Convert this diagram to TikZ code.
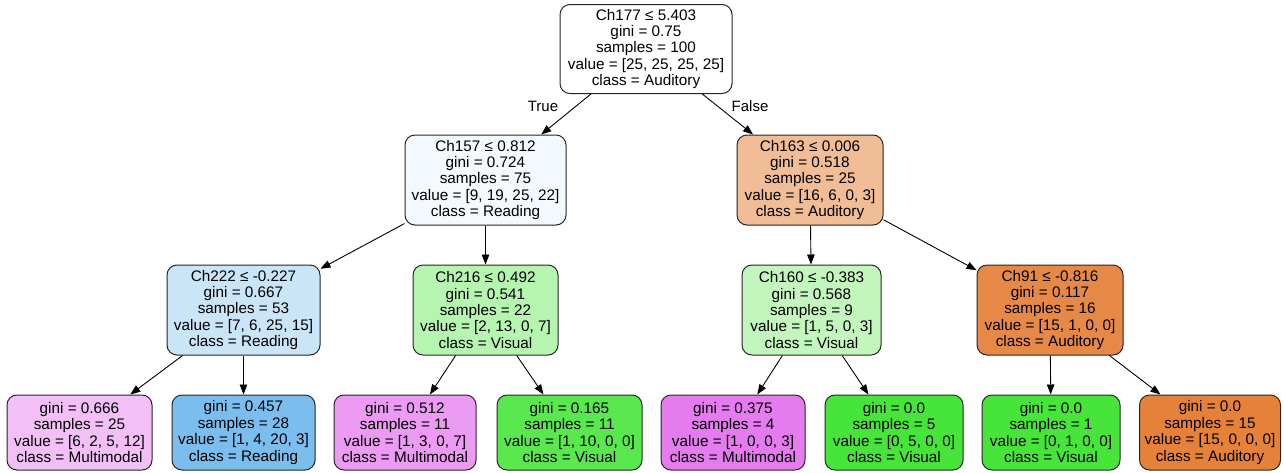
\documentclass[tikz,border=0pt]{standalone}
\usepackage{fontspec}
\setmainfont{Liberation Sans}
\usetikzlibrary{arrows.meta}

% fill colours of the tree nodes
\definecolor{cRoot}{HTML}{FFFFFF}
\definecolor{cA}{HTML}{F4F9FE}
\definecolor{cB}{HTML}{F1BD97}
\definecolor{cC}{HTML}{CBE5F8}
\definecolor{cD}{HTML}{B5F5B0}
\definecolor{cE}{HTML}{C2F6BD}
\definecolor{cF}{HTML}{E78946}
\definecolor{cL1}{HTML}{F2C0F7}
\definecolor{cL2}{HTML}{7BBEEE}
\definecolor{cL3}{HTML}{EB9CF2}
\definecolor{cL4}{HTML}{59E84D}
\definecolor{cL5}{HTML}{E47BEE}
\definecolor{cL6}{HTML}{47E539}
\definecolor{cL8}{HTML}{E58139}

\begin{document}
\begin{tikzpicture}[x=1pt,y=-1pt,
  treenode/.style={draw=black!85, line width=1pt, rounded corners=10pt,
    align=center, inner sep=0pt, minimum height=90pt,
    font=\fontsize{15.3}{16.4}\selectfont},
  leafnode/.style={treenode, minimum height=75pt},
  edgelabel/.style={font=\fontsize{15}{16}\selectfont, inner sep=0pt},
  link/.style={-{Triangle[length=10pt,width=7.5pt]}, line width=0.9pt, black}]

\useasboundingbox (0,0) rectangle (1284,472);

% root
\node[treenode, fill=cRoot, minimum width=172pt, minimum height=89pt] (root) at (646,49)
  {Ch177 ≤ 5.403\\gini = 0.75\\samples = 100\\value = [25, 25, 25, 25]\\class = Auditory};

% second level
\node[treenode, fill=cA, minimum width=161pt] (n1) at (485.5,180)
  {Ch157 ≤ 0.812\\gini = 0.724\\samples = 75\\value = [9, 19, 25, 22]\\class = Reading};
\node[treenode, fill=cB, minimum width=146pt] (n2) at (810,180)
  {Ch163 ≤ 0.006\\gini = 0.518\\samples = 25\\value = [16, 6, 0, 3]\\class = Auditory};

% third level
\node[treenode, fill=cC, minimum width=153pt] (n3) at (243.5,310)
  {Ch222 ≤ -0.227\\gini = 0.667\\samples = 53\\value = [7, 6, 25, 15]\\class = Reading};
\node[treenode, fill=cD, minimum width=145pt] (n4) at (485.5,310)
  {Ch216 ≤ 0.492\\gini = 0.541\\samples = 22\\value = [2, 13, 0, 7]\\class = Visual};
\node[treenode, fill=cE, minimum width=139pt] (n5) at (811.5,310)
  {Ch160 ≤ -0.383\\gini = 0.568\\samples = 9\\value = [1, 5, 0, 3]\\class = Visual};
\node[treenode, fill=cF, minimum width=146pt] (n6) at (1050,310)
  {Ch91 ≤ -0.816\\gini = 0.117\\samples = 16\\value = [15, 1, 0, 0]\\class = Auditory};

% leaves
\node[leafnode, fill=cL1, minimum width=145pt] (l1) at (79.5,432.5)
  {gini = 0.666\\samples = 25\\value = [6, 2, 5, 12]\\class = Multimodal};
\node[leafnode, fill=cL2, minimum width=143pt] (l2) at (243.5,432.5)
  {gini = 0.457\\samples = 28\\value = [1, 4, 20, 3]\\class = Reading};
\node[leafnode, fill=cL3, minimum width=142pt] (l3) at (405,432.5)
  {gini = 0.512\\samples = 11\\value = [1, 3, 0, 7]\\class = Multimodal};
\node[leafnode, fill=cL4, minimum width=145pt] (l4) at (569.5,432.5)
  {gini = 0.165\\samples = 11\\value = [1, 10, 0, 0]\\class = Visual};
\node[leafnode, fill=cL5, minimum width=144pt] (l5) at (733,432.5)
  {gini = 0.375\\samples = 4\\value = [1, 0, 0, 3]\\class = Multimodal};
\node[leafnode, fill=cL6, minimum width=138pt] (l6) at (894,432.5)
  {gini = 0.0\\samples = 5\\value = [0, 5, 0, 0]\\class = Visual};
\node[leafnode, fill=cL6, minimum width=138pt] (l7) at (1051,432.5)
  {gini = 0.0\\samples = 1\\value = [0, 1, 0, 0]\\class = Visual};
\node[leafnode, fill=cL8, minimum width=141pt] (l8) at (1210,432.5)
  {gini = 0.0\\samples = 15\\value = [15, 0, 0, 0]\\class = Auditory};

% connectors
\draw[link] (root) -- (n1);
\draw[link] (root) -- (n2);
\draw[link] (n1) -- (n3);
\draw[link] (n1) -- (n4);
\draw[link] (n2) -- (n5);
\draw[link] (n2) -- (n6);
\draw[link] (n3) -- (l1);
\draw[link] (n3) -- (l2);
\draw[link] (n4) -- (l3);
\draw[link] (n4) -- (l4);
\draw[link] (n5) -- (l5);
\draw[link] (n5) -- (l6);
\draw[link] (n6) -- (l7);
\draw[link] (n6) -- (l8);

% branch labels
\node[edgelabel] (tlabel) at (543,106) {True};
\node[edgelabel] (flabel) at (750,106) {False};

\end{tikzpicture}
\end{document}
